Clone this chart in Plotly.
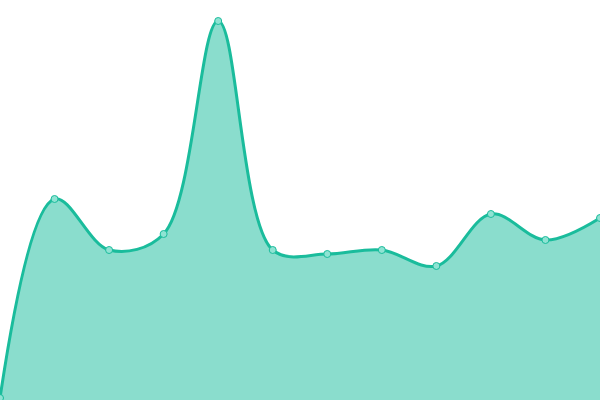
import plotly.graph_objects as go

x_idx = list(range(12))
values = [2, 201, 150, 166, 379, 150, 146, 150, 134, 186, 160, 182]

fig = go.Figure()
fig.add_trace(go.Scatter(
    x=x_idx, y=values, mode="lines+markers",
    line=dict(color="#1abc9c", width=3, shape="spline", smoothing=1.0),
    fill="tozeroy", fillcolor="rgba(26,188,156,0.51)",
    marker=dict(size=7, color="#8fe3d3", line=dict(color="#1abc9c", width=1)),
    hoverinfo="x+y",
))
fig.update_layout(
    width=600, height=400,
    margin=dict(l=0, r=0, t=0, b=0),
    paper_bgcolor="white", plot_bgcolor="white",
    showlegend=False,
    xaxis=dict(range=[0, 11], visible=False, fixedrange=True),
    yaxis=dict(range=[0, 400], visible=False, fixedrange=True),
)
fig.write_html(
    "out.html",
    config={"displayModeBar": False},
    post_script="document.body.style.margin='0';document.body.style.overflow='hidden';",
)
